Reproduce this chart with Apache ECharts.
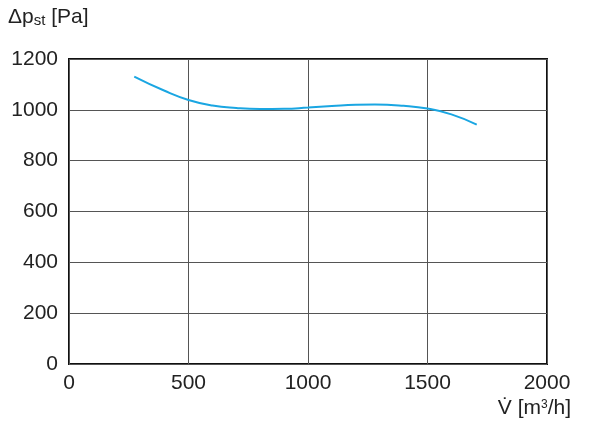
<!DOCTYPE html>
<html>
<head>
<meta charset="utf-8">
<script src="https://cdn.jsdelivr.net/npm/echarts@6/dist/echarts.min.js"></script>
<style>
html, body { margin: 0; padding: 0; background: #fff; }
#main { width: 600px; height: 424px; }
</style>
</head>
<body>
<div id="main"></div>
<script>
// airflow [m3/h] and static pressure [Pa]
var flow = [273, 400, 500, 600, 700, 800, 900, 1000, 1100, 1200, 1280, 1400, 1500, 1600, 1706];
var pressure = [1131, 1075, 1039, 1017, 1007, 1003, 1004, 1009, 1015, 1020, 1021, 1016, 1005, 982, 942];

var xTicks = [0, 500, 1000, 1500, 2000];
var yTicks = [0, 200, 400, 600, 800, 1000, 1200];

var font = "'Liberation Sans', Arial, sans-serif";

var myChart = echarts.init(document.getElementById('main'));

var points = [];
for (var i = 0; i < flow.length; i++) {
    points.push([flow[i], pressure[i]]);
}

// plain numbers, no thousands separator
function plain(v) { return String(v); }

var option = {
    animation: false,
    grid: { left: 69, top: 59, width: 478, height: 305, show: true, borderColor: '#111', borderWidth: 2 },
    xAxis: {
        type: 'value',
        min: xTicks[0], max: xTicks[xTicks.length - 1], interval: 500,
        axisLine: { show: false },
        axisTick: { show: false },
        splitLine: { lineStyle: { color: '#555', width: 1 } },
        axisLabel: { color: '#222', fontSize: 21, fontFamily: font, margin: 9, formatter: plain }
    },
    yAxis: {
        type: 'value',
        min: yTicks[0], max: yTicks[yTicks.length - 1], interval: 200,
        axisLine: { show: false },
        axisTick: { show: false },
        splitLine: { lineStyle: { color: '#555', width: 1 } },
        axisLabel: { color: '#222', fontSize: 21, fontFamily: font, margin: 11, formatter: plain }
    },
    graphic: [
        {
            type: 'text', left: 8, top: 7,
            style: {
                text: '{a|Δp}{b|st}{a| [Pa]}',
                rich: {
                    a: { fontSize: 21, fontFamily: font, fill: '#222' },
                    b: { fontSize: 15, fontFamily: font, fill: '#222', padding: [6, 0, 0, 0] }
                }
            }
        },
        {
            type: 'text', right: 29, top: 398,
            style: {
                text: 'V\u0307 [m{s|3}/h]',
                rich: {
                    s: { fontSize: 12, fontFamily: font, fill: '#222', padding: [0, 0, 8, 0] }
                },
                fontSize: 21, fontFamily: font, fill: '#222'
            }
        }
    ],
    series: [{
        type: 'line',
        data: points,
        smooth: true,
        showSymbol: false,
        lineStyle: { color: '#1aa6e2', width: 2 }
    }]
};

myChart.setOption(option);
</script>
</body>
</html>
